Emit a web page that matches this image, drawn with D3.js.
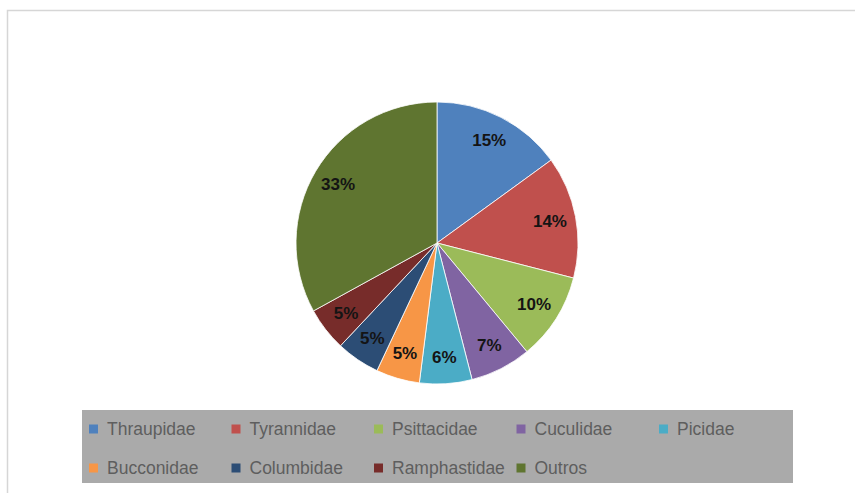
<!DOCTYPE html>
<html>
<head>
<meta charset="utf-8">
<script src="https://cdn.jsdelivr.net/npm/d3@7"></script>
<style>
  html, body { margin: 0; padding: 0; background: #ffffff; }
  svg { display: block; }
</style>
</head>
<body>
<script>
// Bird families and their share of recorded species (%)
const families = ["Thraupidae", "Tyrannidae", "Psittacidae", "Cuculidae", "Picidae",
                  "Bucconidae", "Columbidae", "Ramphastidae", "Outros"];
const shares = [15, 14, 10, 7, 6, 5, 5, 5, 33];
const sliceLabels = ["15%", "14%", "10%", "7%", "6%", "5%", "5%", "5%", "33%"];
const palette = ["#4f81bd", "#c0504d", "#9bbb59", "#8064a2", "#4bacc6",
                 "#f79646", "#2c4d75", "#772c2a", "#5f7530"];

const W = 855, H = 493;
const svg = d3.select("body").append("svg").attr("width", W).attr("height", H);

// chart area frame (left and top edges)
svg.append("path")
  .attr("d", `M7.5,${H} V10.5 H${W}`)
  .attr("fill", "none")
  .attr("stroke", "#d6d6d6")
  .attr("stroke-width", 1.5);

// pie
const cx = 437, cy = 243, R = 141;
const data = families.map((f, i) => ({ name: f, value: shares[i], label: sliceLabels[i] }));
const pie = d3.pie().sort(null).value(d => d.value);
const arcs = pie(data);
const arc = d3.arc().innerRadius(0).outerRadius(R);
const labelArc = d3.arc().innerRadius(115).outerRadius(115);
const color = d3.scaleOrdinal().domain(families).range(palette);

const g = svg.append("g").attr("transform", `translate(${cx},${cy})`);
g.selectAll("path.slice")
  .data(arcs)
  .join("path")
  .attr("class", "slice")
  .attr("d", arc)
  .attr("fill", d => color(d.data.name))
  .attr("stroke", "#ffffff")
  .attr("stroke-width", 0.8);

g.selectAll("text.pct")
  .data(arcs)
  .join("text")
  .attr("class", "pct")
  .attr("transform", d => `translate(${labelArc.centroid(d)})`)
  .attr("text-anchor", "middle")
  .attr("dominant-baseline", "central")
  .attr("font-family", "'Liberation Sans', Arial, sans-serif")
  .attr("font-weight", "bold")
  .attr("font-size", 17)
  .attr("fill", "#141414")
  .text(d => d.data.label);

// legend
const legend = svg.append("g");
legend.append("rect")
  .attr("x", 82).attr("y", 410)
  .attr("width", 711).attr("height", 73)
  .attr("fill", "#aaaaaa");

const colX = d3.scaleLinear().domain([0, 1]).range([89, 231.5]);
const rowY = d3.scaleLinear().domain([0, 1]).range([429, 468]);

const items = legend.selectAll("g.item")
  .data(families)
  .join("g")
  .attr("class", "item")
  .attr("transform", (d, i) => `translate(${colX(i % 5)},${rowY(Math.floor(i / 5))})`);

items.append("rect")
  .attr("x", 0).attr("y", -4.5)
  .attr("width", 9).attr("height", 9)
  .attr("fill", d => color(d));

items.append("text")
  .attr("x", 18)
  .attr("y", 0)
  .attr("dominant-baseline", "central")
  .attr("font-family", "'Liberation Sans', Arial, sans-serif")
  .attr("font-size", 17.5)
  .attr("fill", "#5e5e5e")
  .text(d => d);
</script>
</body>
</html>
